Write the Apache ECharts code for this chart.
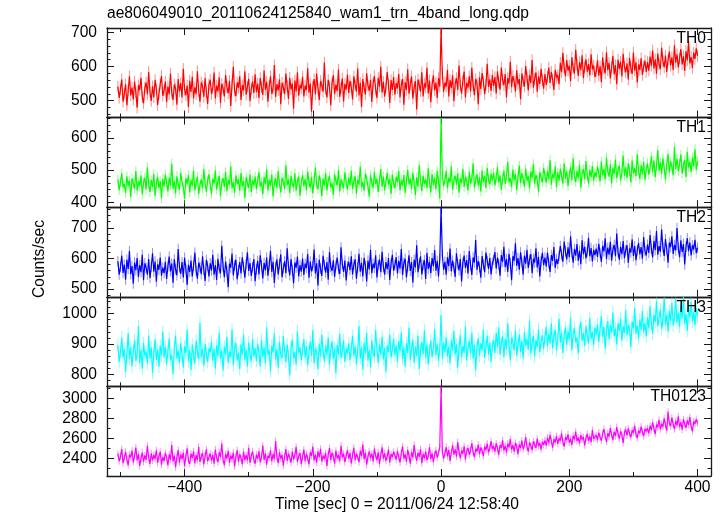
<!DOCTYPE html>
<html><head><meta charset="utf-8">
<script src="https://cdn.jsdelivr.net/npm/echarts@6/dist/echarts.min.js"></script>
<style>html,body{margin:0;padding:0;background:#fff}#c{width:724px;height:516px}</style>
</head><body><div id="c"></div>
<script>
// time bins (sec, relative to 2011/06/24 12:58:40): -504 ... 400, 2 s wide
const binStart = -504, binWidth = 2;

// count rates (counts/sec)
const th0 = [
541,508,533,562,497,520,548,486,529,571,515,538,503,556,524,479,545,531,567,510,492,537,553,518,584,526,499,542,509,561,533,487,520,549,572,514,
530,556,495,541,518,579,523,502,547,535,488,563,527,551,509,593,532,516,544,481,558,525,570,506,539,519,586,528,497,553,542,511,566,524,490,547,
561,519,538,582,506,544,527,568,493,549,536,512,575,540,521,558,484,547,599,529,513,553,537,571,502,545,530,586,517,541,564,498,534,556,522,577,
525,549,508,566,539,517,588,532,555,497,543,571,520,536,604,511,548,530,562,489,552,538,519,579,541,505,567,533,550,476,559,527,583,514,546,535,
570,512,544,531,595,523,550,467,541,563,518,579,536,502,557,545,526,612,533,509,561,540,486,552,574,519,547,528,591,511,538,565,497,549,532,576,
522,558,539,503,571,546,527,594,515,552,481,563,537,518,580,544,529,561,496,550,572,533,508,567,541,599,524,555,512,538,584,547,493,560,531,569,
517,551,536,578,509,546,563,488,554,531,592,520,548,571,506,539,557,474,562,545,527,583,512,550,538,596,521,559,495,547,574,530,553,508,566,541,
712,
579,526,553,541,590,512,560,537,574,498,549,566,531,603,544,520,558,585,509,552,538,571,527,596,545,516,563,550,489,568,534,581,556,519,547,608,540,562,528,575,
543,569,521,586,554,532,597,561,545,578,509,566,550,614,539,572,556,527,589,548,563,504,580,557,541,601,568,530,575,552,619,538,564,583,526,571,549,593,560,535,
578,546,569,597,552,584,561,531,590,567,575,548,611,583,640,596,571,619,588,602,557,627,594,580,649,605,572,613,589,633,566,598,621,585,607,574,636,592,603,569,
586,618,573,601,554,627,595,580,642,589,611,565,598,631,577,604,548,620,593,614,571,637,599,583,609,562,625,596,578,641,588,612,553,606,590,624,575,600,617,584,
613,588,629,602,647,594,621,579,638,607,592,655,615,598,632,584,619,644,603,627,590,662,611,636,597,624,651,606,630,587,645,618,674,609,628,596,641,622,653,631];

const th1 = [
471,438,462,490,446,457,429,481,452,468,417,474,459,443,497,436,465,451,483,425,462,476,440,509,455,432,469,448,488,421,458,479,444,466,413,473,
449,486,461,434,477,453,520,442,467,428,481,456,439,492,463,447,411,475,458,485,431,469,452,498,437,462,479,426,455,471,444,503,459,433,468,487,
452,427,473,458,499,440,466,482,419,461,475,448,494,435,470,455,512,443,463,429,484,457,472,436,491,450,466,414,478,459,445,487,432,469,453,480,
441,468,493,449,464,425,478,456,503,437,470,452,486,418,462,474,444,497,458,431,476,465,442,515,453,471,429,482,459,447,490,436,467,479,421,463,
485,450,472,438,496,461,446,479,428,467,508,455,441,483,463,420,474,452,491,437,469,481,446,459,424,487,466,453,500,434,471,458,445,493,462,439,
477,453,498,442,466,481,427,470,455,511,447,463,436,489,472,450,418,484,461,445,495,457,474,432,468,503,449,480,438,464,492,455,473,426,486,459,
444,479,463,497,438,470,452,485,429,466,501,456,474,441,492,460,423,478,449,515,468,435,483,457,471,445,506,462,431,488,454,476,440,497,466,412,
662,
486,451,470,497,444,476,462,512,439,468,483,455,491,430,474,460,504,448,479,466,437,495,458,473,521,446,469,488,452,478,434,499,463,482,445,507,471,456,489,467,
492,453,477,509,461,484,440,473,498,457,482,526,463,475,447,502,469,488,438,479,514,460,491,472,449,505,467,481,443,496,475,519,458,486,470,433,494,477,462,507,
483,461,498,472,531,455,488,476,512,447,493,467,504,482,458,521,474,496,451,486,509,469,537,480,463,498,475,517,446,489,503,472,528,484,459,501,478,513,467,494,
478,512,491,465,527,484,503,471,539,496,480,518,459,507,488,533,475,499,514,468,492,545,483,509,476,521,497,462,530,490,506,481,549,498,473,515,487,526,470,502,
521,486,509,543,495,530,478,514,562,499,524,488,537,506,471,518,550,493,527,511,484,572,503,536,497,520,548,490,515,531,479,557,508,526,494,539,512,565,501,528];

const th2 = [
591,547,572,609,553,580,531,596,566,624,549,575,518,587,562,601,540,578,555,612,529,584,569,547,598,536,573,617,557,590,524,581,563,603,544,570,
552,589,533,574,606,558,583,521,597,564,545,631,571,550,588,538,602,567,514,579,556,593,541,576,619,560,534,586,572,549,607,563,527,595,575,541,
584,561,612,547,578,530,599,566,552,641,574,539,590,558,506,583,570,616,545,577,596,532,562,588,551,604,573,537,581,620,559,585,543,571,598,526,
565,592,548,610,577,535,586,561,603,544,579,625,556,589,520,572,597,548,582,613,539,568,591,552,633,574,545,598,563,519,587,570,606,541,578,557,
600,546,583,569,614,537,590,558,575,629,551,584,512,596,567,543,609,578,554,588,531,621,572,560,594,540,577,603,566,549,636,581,556,593,528,574,
589,562,607,548,580,597,534,571,615,557,586,541,602,576,525,593,564,628,552,583,569,610,538,579,596,555,622,573,547,588,565,601,530,584,612,560,
578,604,551,592,567,631,546,585,599,538,574,610,559,588,522,596,571,643,555,583,607,548,579,594,533,618,566,589,552,601,575,627,560,592,541,598,
765,
612,563,589,547,604,575,632,558,593,571,540,617,582,561,598,525,586,609,569,595,551,624,578,546,603,587,660,563,591,572,537,608,580,555,619,592,566,601,548,585,
596,621,567,603,582,544,611,589,638,572,598,556,615,584,529,607,593,649,576,601,563,620,588,547,609,583,628,569,596,614,552,599,587,633,571,605,541,592,618,578,
603,574,619,585,556,611,592,637,569,598,582,608,641,612,589,655,623,597,636,604,672,618,586,631,609,647,593,625,581,659,614,638,600,622,667,607,634,590,628,611,
632,605,648,617,589,641,623,666,598,635,612,654,593,629,644,607,681,620,596,638,614,657,601,627,643,586,633,619,662,608,640,594,626,651,613,637,599,670,624,610,
645,618,676,631,603,657,627,689,612,640,622,694,635,608,663,629,586,651,637,672,615,644,626,699,633,604,659,621,647,580,638,666,624,652,610,643,629,661,617,635];

const th3 = [
897,842,873,921,856,884,808,869,935,851,890,827,876,912,845,867,959,838,881,819,903,862,874,836,928,853,889,805,870,915,848,882,826,895,861,940,
856,891,834,877,918,849,863,802,886,927,852,879,838,904,866,823,892,871,947,843,880,815,898,862,836,911,874,850,969,857,884,829,901,868,841,886,
873,908,845,884,820,896,861,937,852,879,813,892,866,924,839,875,857,948,830,887,903,846,871,818,899,864,931,848,882,826,905,868,842,917,859,887,
844,901,870,826,913,858,889,837,954,865,880,811,894,872,935,849,883,822,907,866,853,926,877,841,898,860,798,887,915,852,874,833,942,869,890,847,
881,916,855,893,829,874,908,862,945,838,886,872,817,901,859,930,876,843,895,864,921,832,880,909,851,888,804,897,866,934,855,875,912,841,884,869,
902,847,885,927,861,893,834,876,959,852,889,816,904,868,937,845,880,824,912,871,858,946,883,839,899,866,924,850,887,809,895,874,931,856,881,918,
863,896,842,910,877,938,851,889,826,903,870,953,847,884,915,839,892,861,927,818,880,906,867,944,855,898,833,879,912,858,886,949,864,901,845,882,
995,
851,905,873,922,859,891,836,914,878,943,865,899,822,886,930,857,893,871,958,846,884,910,868,937,853,897,813,889,919,862,902,879,948,855,890,927,866,905,841,895,
912,871,936,889,954,866,903,925,858,917,884,968,893,847,921,906,879,945,862,898,931,874,910,853,939,895,917,881,976,868,902,927,859,914,890,948,873,907,929,885,
921,957,893,934,902,968,886,925,947,879,916,983,904,938,871,929,955,897,942,914,988,880,931,952,906,921,869,945,973,911,936,894,959,927,902,985,918,940,897,954,
931,966,907,948,992,923,957,885,944,975,916,962,938,1003,925,951,899,969,943,984,912,958,936,1011,928,964,947,890,973,952,1019,934,961,918,980,946,1008,939,969,925,
988,953,1024,967,934,996,972,1041,958,985,1013,949,979,1052,964,997,941,1008,976,1035,961,990,1047,971,1003,956,1029,983,1054,967,998,944,1021,986,1039,973,1005,962,1018,991];

const th0123 = [
2447,2371,2418,2493,2352,2405,2466,2389,2331,2437,2412,2478,2360,2425,2509,2381,2443,2324,2398,2459,2366,2430,2385,2526,2407,2343,2451,2379,2434,2394,2482,2356,2419,2468,2337,2413,
2374,2456,2402,2331,2441,2387,2535,2369,2427,2312,2409,2484,2358,2439,2392,2457,2322,2421,2501,2377,2345,2448,2404,2470,2350,2433,2381,2517,2364,2418,2453,2339,2426,2491,2373,2410,
2449,2378,2436,2347,2489,2406,2363,2462,2415,2548,2386,2333,2444,2399,2475,2355,2428,2393,2458,2318,2414,2483,2366,2441,2402,2341,2467,2384,2432,2379,2506,2357,2423,2471,2390,2346,
2438,2395,2472,2361,2417,2528,2384,2450,2336,2426,2404,2481,2369,2444,2391,2575,2412,2352,2461,2398,2435,2327,2419,2493,2376,2447,2408,2356,2469,2389,2431,2515,2365,2422,2453,2342,
2417,2488,2373,2446,2401,2339,2462,2425,2519,2380,2437,2357,2470,2411,2496,2368,2428,2394,2453,2323,2441,2504,2385,2458,2415,2346,2477,2399,2434,2372,2527,2410,2448,2361,2429,2482,
2396,2455,2349,2432,2507,2383,2446,2412,2361,2479,2424,2538,2391,2457,2336,2418,2470,2402,2448,2369,2497,2427,2384,2462,2341,2436,2511,2398,2451,2375,2422,2488,2359,2443,2414,2466,
2431,2387,2476,2412,2359,2453,2521,2398,2441,2366,2487,2425,2348,2462,2409,2533,2437,2376,2458,2415,2492,2351,2444,2402,2469,2383,2426,2513,2395,2451,2362,2438,2481,2407,2455,2512,
3118,
2468,2397,2452,2513,2421,2486,2375,2459,2532,2438,2491,2417,2563,2466,2402,2479,2447,2521,2389,2473,2505,2436,2482,2551,2459,2414,2497,2468,2538,2442,2509,2476,2423,2518,2485,2547,2461,2502,2574,2493,
2522,2468,2551,2497,2436,2534,2503,2581,2479,2527,2459,2548,2512,2594,2487,2533,2468,2556,2519,2442,2541,2505,2578,2492,2536,2613,2514,2467,2559,2528,2483,2571,2539,2506,2598,2524,2553,2489,2567,2535,
2581,2527,2609,2554,2636,2572,2508,2593,2561,2624,2545,2601,2578,2652,2563,2519,2612,2586,2641,2557,2598,2534,2627,2591,2668,2574,2609,2552,2633,2589,2615,2531,2602,2646,2577,2621,2563,2684,2598,2617,
2633,2587,2659,2612,2578,2647,2694,2621,2565,2652,2618,2703,2639,2583,2667,2626,2715,2648,2597,2672,2636,2554,2661,2689,2630,2701,2649,2612,2683,2658,2727,2641,2604,2678,2652,2719,2665,2623,2696,2674,
2702,2651,2728,2684,2763,2697,2645,2739,2712,2788,2691,2746,2718,2801,2735,2679,2868,2752,2724,2809,2741,2693,2776,2731,2822,2715,2763,2688,2792,2744,2706,2781,2736,2814,2722,2671,2769,2747,2795,2753];

// typical 1-sigma error of one bin (counts/sec)
const errTH0 = 17, errTH1 = 15, errTH2 = 17, errTH3 = 21, errTH0123 = 35;

// tick labels
const xTickLabels = [-400, -200, 0, 200, 400];
const xMinorTicks = [-500, -300, -100, 100, 300];
const yTicksTH0 = [500, 600, 700];
const yTicksTH1 = [400, 500, 600];
const yTicksTH2 = [500, 600, 700];
const yTicksTH3 = [800, 900, 1000];
const yTicksTH0123 = [2400, 2600, 2800, 3000];
const bandNames = ['TH0', 'TH1', 'TH2', 'TH3', 'TH0123'];

const FONT = '"Liberation Sans", Helvetica, Arial, sans-serif';
const FS = 15.6;
const X_MIN = -521, X_MAX = 421;
const PTOP = 28, PH = 89.6, PLEFT = 107, PW = 604;
const AX = '#1a1a1a';

const panels = [
  {values: th0, err: errTH0, color: '#ff0000', yMin: 450, yMax: 713, yMajor: yTicksTH0, minorStep: 20},
  {values: th1, err: errTH1, color: '#00ff00', yMin: 385, yMax: 663, yMajor: yTicksTH1, minorStep: 20},
  {values: th2, err: errTH2, color: '#0000ff', yMin: 475, yMax: 767, yMajor: yTicksTH2, minorStep: 20},
  {values: th3, err: errTH3, color: '#00ffff', yMin: 761, yMax: 1055, yMajor: yTicksTH3, minorStep: 20},
  {values: th0123, err: errTH0123, color: '#ff00ff', yMin: 2223, yMax: 3123, yMajor: yTicksTH0123, minorStep: 100}
];

function minorVals(min, max, step) {
  const a = [];
  for (let v = Math.ceil(min / step) * step; v <= max; v += step) a.push(v);
  return a;
}
const fmt = v => String(v).replace('-', '\u2212');

function xAx(p, pos, ticks, len, line, labels) {
  return {
    type: 'value', gridIndex: p, position: pos, min: X_MIN, max: X_MAX,
    axisLine: {show: line, onZero: false, lineStyle: {color: AX, width: 1.3}},
    axisTick: {show: true, inside: true, length: len, customValues: ticks, lineStyle: {color: AX, width: 1}},
    axisLabel: labels ? {show: true, customValues: labels, margin: 4, fontSize: FS, color: '#000', fontFamily: FONT, formatter: fmt} : {show: false},
    splitLine: {show: false}
  };
}
function yAx(p, pos, pan, ticks, len, line, labels) {
  return {
    type: 'value', gridIndex: p, position: pos, min: pan.yMin, max: pan.yMax,
    axisLine: {show: line, onZero: false, lineStyle: {color: AX, width: 1.3}},
    axisTick: {show: true, inside: true, length: len, customValues: ticks, lineStyle: {color: AX, width: 1}},
    axisLabel: labels ? {show: true, customValues: labels, margin: 10, fontSize: FS, color: '#000', fontFamily: FONT, formatter: v => String(v)} : {show: false},
    splitLine: {show: false}
  };
}

const grid = [], xAxis = [], yAxis = [], series = [], graphic = [];
panels.forEach((pan, p) => {
  const top = PTOP + p * PH;
  grid.push({left: PLEFT, width: PW, top: top, height: PH});
  const last = p === panels.length - 1;
  xAxis.push(xAx(p, 'bottom', xTickLabels, 7, true, last ? xTickLabels : null));
  xAxis.push(xAx(p, 'bottom', xMinorTicks, 4, false, null));
  xAxis.push(xAx(p, 'top', xTickLabels, 7, true, null));
  xAxis.push(xAx(p, 'top', xMinorTicks, 4, false, null));
  const minors = minorVals(pan.yMin, pan.yMax, pan.minorStep);
  yAxis.push(yAx(p, 'left', pan, pan.yMajor, 7, true, pan.yMajor));
  yAxis.push(yAx(p, 'left', pan, minors, 3.5, false, null));
  yAxis.push(yAx(p, 'right', pan, pan.yMajor, 7, true, null));
  yAxis.push(yAx(p, 'right', pan, minors, 3.5, false, null));
  const pts = pan.values.map((v, i) => [binStart + i * binWidth, v]);
  const gTop = top, gBot = top + PH;
  series.push({
    type: 'custom', xAxisIndex: p * 4, yAxisIndex: p * 4, silent: true, z: 1,
    data: pts.map(d => [d[0], d[1] - pan.err, d[1] + pan.err]),
    renderItem: (params, api) => {
      const a = api.coord([api.value(0), api.value(1)]);
      const b = api.coord([api.value(0), api.value(2)]);
      const y1 = Math.min(Math.max(a[1], gTop), gBot), y2 = Math.min(Math.max(b[1], gTop), gBot);
      return {type: 'line', shape: {x1: a[0], y1: y1, x2: b[0], y2: y2},
        style: {stroke: pan.color, lineWidth: 1, opacity: 0.45}};
    }
  });
  series.push({type: 'line', xAxisIndex: p * 4, yAxisIndex: p * 4, data: pts, symbol: 'none', silent: true,
    lineStyle: {color: pan.color, width: 1.2}, z: 2});
  graphic.push({type: 'text', right: 18, top: top + 2.5, z: 10,
    style: {text: bandNames[p], font: FS + 'px ' + FONT, fill: '#000'}});
});

graphic.push({type: 'text', left: 107, top: 5.5,
  style: {text: 'ae806049010_20110624125840_wam1_trn_4band_long.qdp', font: FS + 'px ' + FONT, fill: '#000'}});
graphic.push({type: 'text', style: {text: 'Counts/sec', font: FS + 'px ' + FONT, fill: '#000'},
  rotation: Math.PI / 2, x: 32, y: 298});
graphic.push({type: 'text', left: 275, top: 496.5,
  style: {text: 'Time [sec] 0 = 2011/06/24 12:58:40', font: FS + 'px ' + FONT, fill: '#000'}});

const chart = echarts.init(document.getElementById('c'));
chart.setOption({animation: false, backgroundColor: '#fff', grid, xAxis, yAxis, series, graphic});
</script>
</body></html>
